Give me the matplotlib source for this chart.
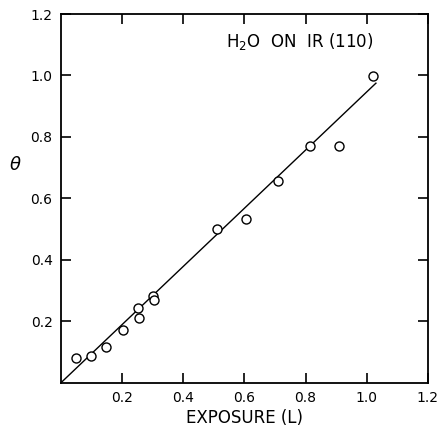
import matplotlib
matplotlib.use("Agg")
import matplotlib.pyplot as plt
import numpy as np

# H2O on Ir(110): coverage vs exposure
exposure = [0.05, 0.098, 0.148, 0.203, 0.252, 0.255, 0.302, 0.303, 0.511, 0.605, 0.709, 0.813, 0.91, 1.022]
theta = [0.082, 0.087, 0.116, 0.172, 0.242, 0.212, 0.283, 0.268, 0.502, 0.534, 0.658, 0.772, 0.769, 0.997]

fit_x = [0.0, 1.03]
fit_y = [0.0, 0.975]

ticks = [0.2, 0.4, 0.6, 0.8, 1.0, 1.2]
tick_labels = ['0.2', '0.4', '0.6', '0.8', '1.0', '1.2']

plt.rcParams['font.family'] = ['DejaVu Sans']

fig = plt.figure(figsize=(4.38, 4.38), dpi=100)
ax = fig.add_axes([0.139, 0.126, 0.838, 0.842])

ax.plot(fit_x, fit_y, color='black', lw=1.0)
ax.plot(exposure, theta, 'o', mfc='white', mec='black', ms=6.5, mew=1.0)

ax.set_xlim(0, 1.2)
ax.set_ylim(0, 1.2)
ax.set_xticks(ticks)
ax.set_xticklabels(tick_labels)
ax.set_yticks(ticks)
ax.set_yticklabels(tick_labels)
ax.tick_params(direction='in', length=7, width=1.2, top=True, right=True,
               labelsize=10, pad=6)
for s in ax.spines.values():
    s.set_linewidth(1.3)

ax.set_xlabel('EXPOSURE (L)', fontsize=12, labelpad=3)
ax.set_ylabel(r'$\theta$', fontsize=13, rotation=0, va='center')
ax.yaxis.set_label_coords(-0.125, 0.59)
ax.text(0.78, 1.11, r'H$_2$O  ON  IR (110)', fontsize=12, ha='center', va='center')

fig.savefig('out.png', dpi=100)
